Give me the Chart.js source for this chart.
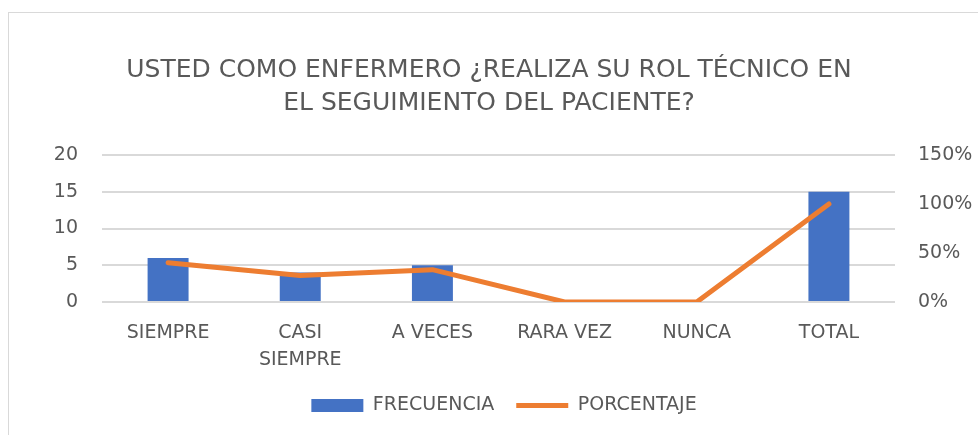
<!DOCTYPE html>
<html>
<head>
<meta charset="utf-8">
<script src="https://cdn.jsdelivr.net/npm/chart.js@4"></script>
<style>
    html, body { margin: 0; padding: 0; background: #fff; }
    #wrap { position: relative; width: 978px; height: 435px; overflow: hidden; }
    #frame { position: absolute; left: 8px; top: 12px; width: 1200px; height: 800px;
             border-top: 1px solid #d9d9d9; border-left: 1px solid #d9d9d9; }
    canvas { position: absolute; left: 0; top: 0; }
</style>
</head>
<body>
<div id="wrap">
    <div id="frame"></div>
    <canvas id="myChart" width="978" height="435"></canvas>
</div>
<script>
var categorias = ['SIEMPRE', ['CASI', 'SIEMPRE'], 'A VECES', 'RARA VEZ', 'NUNCA', 'TOTAL'],
    frecuencia = [6, 4, 5, 0, 0, 15],
    porcentaje = [40, 27, 33, 0, 0, 100],
    ticksIzq = [0, 5, 10, 15, 20],
    ticksDer = [0, 50, 100, 150];

const fuente = "'DejaVu Sans', sans-serif";
const gris = '#595959';

// la leyenda del original esta un poco a la derecha del centro
const moverLeyenda = {
    id: 'moverLeyenda',
    afterLayout: chart => {
        chart.legend.left += 15;
        chart.legend.right += 15;
    }
};

var ctx = document.getElementById('myChart').getContext('2d');
var myChart = new Chart(ctx, {
    type: 'bar',
    data: {
        labels: categorias,
        datasets: [{
            type: 'line',
            label: 'PORCENTAJE',
            data: porcentaje,
            borderColor: '#ED7D31',
            backgroundColor: '#ED7D31',
            borderWidth: 5,
            borderCapStyle: 'round',
            borderJoinStyle: 'round',
            pointRadius: 0,
            pointStyle: 'line',
            tension: 0,
            yAxisID: 'y1',
            order: 1
        }, {
            label: 'FRECUENCIA',
            data: frecuencia,
            backgroundColor: '#4472C4',
            borderWidth: 0,
            pointStyle: 'rect',
            barPercentage: 0.31,
            categoryPercentage: 1,
            yAxisID: 'y',
            order: 2
        }]
    },
    plugins: [moverLeyenda],
    options: {
        responsive: false,
        animation: false,
        layout: { padding: { bottom: 10 } },
        plugins: {
            title: {
                display: true,
                text: ['USTED COMO ENFERMERO ¿REALIZA SU ROL TÉCNICO EN', 'EL SEGUIMIENTO DEL PACIENTE?'],
                color: gris,
                font: { family: fuente, size: 25, weight: 'normal', lineHeight: '33px' },
                padding: { top: 54, bottom: 35 }
            },
            legend: {
                position: 'bottom',
                reverse: true,
                labels: {
                    usePointStyle: true,
                    pointStyleWidth: 52,
                    boxHeight: 13,
                    padding: 22,
                    color: gris,
                    font: { family: fuente, size: 19 }
                }
            },
            tooltip: { enabled: false }
        },
        scales: {
            x: {
                grid: { display: false, drawTicks: false },
                border: { display: false },
                ticks: {
                    color: gris,
                    padding: 18,
                    maxRotation: 0,
                    font: { family: fuente, size: 19, lineHeight: '27px' }
                },
                afterFit: s => { s.height = 72; }
            },
            y: {
                position: 'left',
                min: 0,
                max: 20,
                afterBuildTicks: s => { s.ticks = ticksIzq.map(v => ({ value: v })); },
                grid: { color: '#d9d9d9', lineWidth: 2, drawTicks: false },
                border: { display: false },
                ticks: {
                    color: gris,
                    padding: 24,
                    font: { family: fuente, size: 19 }
                },
                afterFit: s => { s.width = 102; }
            },
            y1: {
                position: 'right',
                min: 0,
                max: 150,
                afterBuildTicks: s => { s.ticks = ticksDer.map(v => ({ value: v })); },
                grid: { display: false, drawTicks: false },
                border: { display: false },
                ticks: {
                    color: gris,
                    padding: 23,
                    font: { family: fuente, size: 19 },
                    callback: v => v + '%'
                },
                afterFit: s => { s.width = 83; }
            }
        }
    }
});
</script>
</body>
</html>
